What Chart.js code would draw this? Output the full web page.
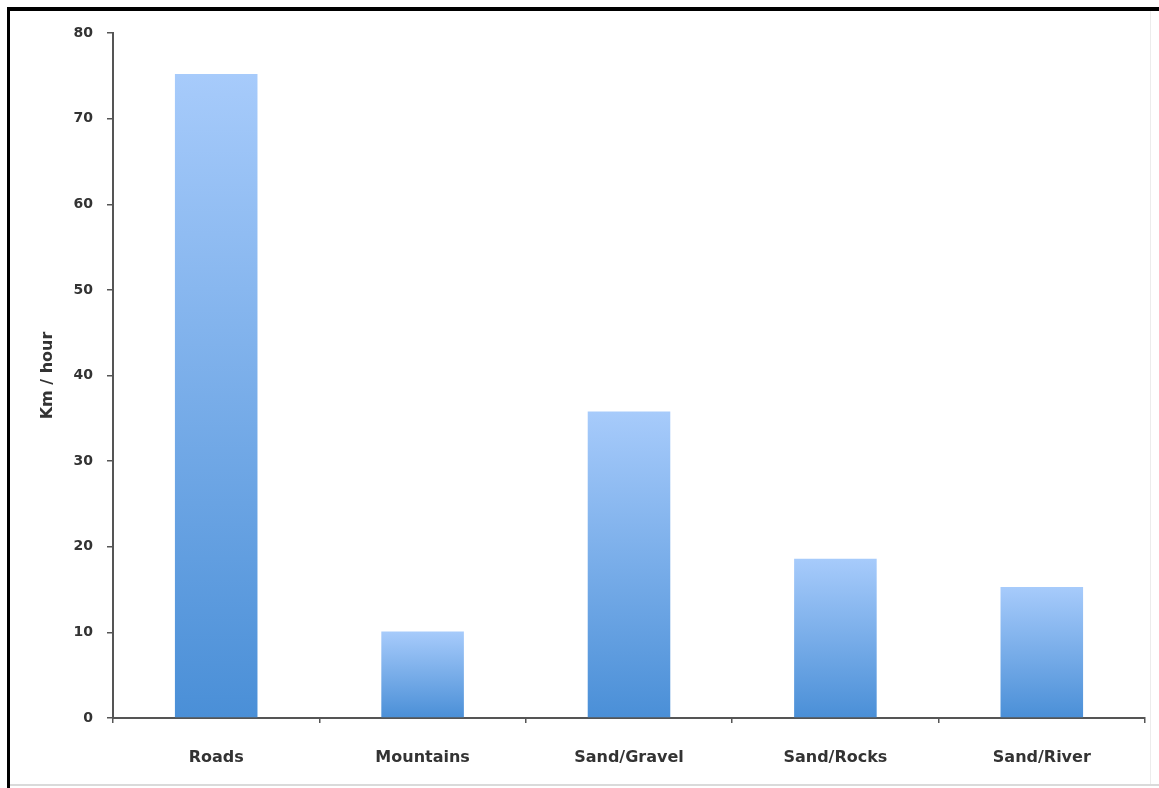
<!DOCTYPE html>
<html>
<head>
<meta charset="utf-8">
<script src="https://cdn.jsdelivr.net/npm/chart.js@4"></script>
<style>
  html, body { margin: 0; padding: 0; background: #fff; overflow: hidden; }
  #wrap { position: relative; width: 1159px; height: 788px; }
  canvas { display: block; }
  .ln { position: absolute; pointer-events: none; }
  #top { left: 7px; top: 7px; width: 1152px; height: 4px; background: #000; }
  #left { left: 7px; top: 7px; width: 3px; height: 781px; background: #000; }
  #right { left: 1150px; top: 11px; width: 1px; height: 774px; background: #ececec; }
  #bottom { left: 10px; top: 784px; width: 1149px; height: 2px; background: #dadada; }
</style>
</head>
<body>
<div id="wrap">
  <canvas id="c" width="1159" height="788"></canvas>
  <div class="ln" id="top"></div>
  <div class="ln" id="left"></div>
  <div class="ln" id="right"></div>
  <div class="ln" id="bottom"></div>
</div>
<script>
const categories = ["Roads", "Mountains", "Sand/Gravel", "Sand/Rocks", "Sand/River"];
const speedKmh = [75.2, 10.1, 35.8, 18.6, 15.3];
const yTicks = [0, 10, 20, 30, 40, 50, 60, 70, 80];
const yTitle = "Km / hour";

const FONT = "'DejaVu Sans', sans-serif";
const TEXT = "#333333";
const AXIS = "#555555";

function barGradient(ctx) {
  const chart = ctx.chart;
  const area = chart.chartArea;
  if (!area || !chart.scales.y) return "#7aaeea";
  const v = ctx.parsed ? ctx.parsed.y : speedKmh[ctx.dataIndex];
  const yTop = chart.scales.y.getPixelForValue(v);
  const yBot = chart.scales.y.getPixelForValue(0);
  if (!isFinite(yTop) || !isFinite(yBot) || yTop === yBot) return "#7aaeea";
  const g = chart.ctx.createLinearGradient(0, yTop, 0, yBot);
  g.addColorStop(0, "#a7cbfb");
  g.addColorStop(1, "#4a8fd7");
  return g;
}

new Chart(document.getElementById("c"), {
  type: "bar",
  data: {
    labels: categories,
    datasets: [{
      data: speedKmh,
      backgroundColor: barGradient,
      borderWidth: 0,
      barPercentage: 0.4,
      categoryPercentage: 1.0
    }]
  },
  options: {
    responsive: false,
    animation: false,
    devicePixelRatio: 1,
    layout: { padding: { left: 0, top: 33, right: 14, bottom: 0 } },
    plugins: { legend: { display: false }, tooltip: { enabled: false } },
    scales: {
      x: {
        offset: true,
        grid: { display: true, drawOnChartArea: false, offset: true, color: AXIS, tickLength: 5, lineWidth: 1.5 },
        border: { display: true, color: AXIS, width: 2 },
        ticks: { color: TEXT, padding: 25, font: { family: FONT, size: 16, weight: "bold" } },
        afterFit: s => { s.height = 70; }
      },
      y: {
        min: 0, max: 80,
        afterBuildTicks: s => { s.ticks = yTicks.map(v => ({ value: v })); },
        grid: { display: true, drawOnChartArea: false, color: AXIS, tickLength: 6, lineWidth: 1.5 },
        border: { display: true, color: AXIS, width: 2 },
        ticks: { color: TEXT, padding: 14, font: { family: FONT, size: 14, weight: "bold" } },
        title: { display: true, text: yTitle, color: TEXT, padding: { top: 38, bottom: 0 },
                 font: { family: FONT, size: 16, weight: "bold" } },
        afterFit: s => { s.width = 113; }
      }
    }
  }
});
</script>
</body>
</html>
